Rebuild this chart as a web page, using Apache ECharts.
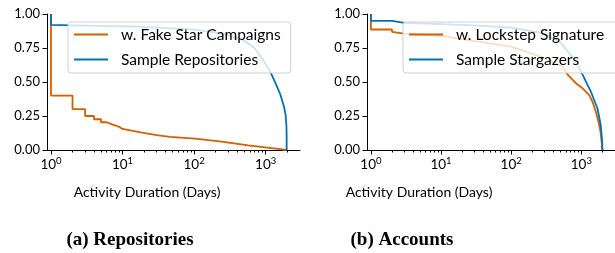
<!DOCTYPE html>
<html>
<head>
<meta charset="utf-8">
<title>Activity duration</title>
<script src="https://cdn.jsdelivr.net/npm/echarts@6/dist/echarts.min.js"></script>
<style>
  html, body { margin: 0; padding: 0; background: #fff; }
  #chart { width: 615px; height: 253px; }
</style>
</head>
<body>
<div id="chart"></div>
<script>
// (a) repositories
var repoFakeDays  = [1, 1, 2, 2, 3, 3, 4, 4, 5, 5, 6, 6, 7, 7, 8, 8, 9, 9, 10, 18, 30, 46, 103, 243, 571, 980, 1500, 1960];
var repoFakeShare = [1.0, 0.40, 0.40, 0.30, 0.30, 0.25, 0.25, 0.226, 0.226, 0.204, 0.204, 0.19, 0.19, 0.18, 0.18, 0.17, 0.17, 0.163, 0.155, 0.13, 0.11, 0.097, 0.083, 0.061, 0.034, 0.02, 0.008, 0.0];
var repoSampleDays  = [1, 1, 2, 5, 10, 20, 50, 100, 200, 300, 400, 500, 700, 900, 1000, 1200, 1400, 1600, 1800, 1900, 1950, 1965, 1965];
var repoSampleShare = [1.0, 0.92, 0.917, 0.913, 0.91, 0.905, 0.895, 0.885, 0.865, 0.845, 0.825, 0.805, 0.75, 0.67, 0.63, 0.56, 0.48, 0.41, 0.32, 0.26, 0.18, 0.1, 0.0];

// (b) accounts
var accLockDays  = [1, 1, 2, 2, 3, 10, 30, 100, 250, 540, 647, 760, 846, 1050, 1300, 1446, 1610, 1757, 1870, 1950, 1995];
var accLockShare = [1.0, 0.886, 0.886, 0.869, 0.855, 0.84, 0.80, 0.76, 0.69, 0.615, 0.55, 0.513, 0.489, 0.452, 0.403, 0.354, 0.281, 0.207, 0.14, 0.06, 0.0];
var accSampleDays  = [1, 1, 2, 2, 3, 10, 34, 100, 290, 495, 850, 1050, 1371, 1700, 1892, 1980, 2000];
var accSampleShare = [1.0, 0.95, 0.95, 0.94, 0.935, 0.925, 0.915, 0.90, 0.857, 0.795, 0.65, 0.55, 0.428, 0.305, 0.18, 0.07, 0.0];

var majorTicks = [1, 10, 100, 1000];
var minorTicks = [2, 3, 4, 5, 6, 7, 8, 9, 20, 30, 40, 50, 60, 70, 80, 90, 200, 300, 400, 500, 600, 700, 800, 900, 2000];
var supDigits = ['0', '1', '2', '3'];

var orange = '#d55e00';
var blue = '#0072b2';
var sans = 'Lato, "DejaVu Sans", sans-serif';

function pairs(xs, ys) {
    return xs.map(function (x, i) { return [x, ys[i]]; });
}

function majorAxis(grid) {
    return {
        type: 'log', gridIndex: grid, min: 0.88, max: 3020, position: 'bottom',
        axisLine: { lineStyle: { color: '#000', width: 1 } },
        axisTick: { customValues: majorTicks, length: 4.5, lineStyle: { color: '#000' } },
        axisLabel: {
            customValues: majorTicks, margin: 6,
            formatter: function (v) {
                return '{b|10}{s|' + supDigits[Math.round(Math.log10(v))] + '}';
            },
            rich: {
                b: { fontFamily: sans, fontSize: 13.5, color: '#000', lineHeight: 16, verticalAlign: 'bottom' },
                s: { fontFamily: sans, fontSize: 9.5, color: '#000', lineHeight: 16, verticalAlign: 'top' }
            }
        },
        splitLine: { show: false }
    };
}
function minorAxis(grid) {
    return {
        type: 'log', gridIndex: grid, min: 0.88, max: 3020, position: 'bottom',
        axisLine: { show: false },
        axisTick: { customValues: minorTicks, length: 2.5, lineStyle: { color: '#000' } },
        axisLabel: { show: false },
        splitLine: { show: false }
    };
}
function yAxis(grid) {
    return {
        type: 'value', gridIndex: grid, min: 0, max: 1, interval: 0.25,
        axisLine: { show: true, lineStyle: { color: '#000', width: 1 } },
        axisTick: { show: true, length: 4.5, lineStyle: { color: '#000' } },
        axisLabel: { color: '#000', fontFamily: sans, fontSize: 13, margin: 7,
            formatter: function (v) { return v.toFixed(2); } },
        splitLine: { show: false }
    };
}
function line(name, xi, yi, color, data) {
    return {
        name: name, type: 'line', xAxisIndex: xi, yAxisIndex: yi,
        data: data, showSymbol: false, symbol: 'none',
        lineStyle: { color: color, width: 1.8 }, itemStyle: { color: color },
        animation: false
    };
}
function legend(left, names, padRight) {
    return {
        data: names, orient: 'vertical', left: left, top: 22,
        icon: 'rect', itemWidth: 34, itemHeight: 2, itemGap: 8,
        padding: [4, padRight, 5, 6],
        backgroundColor: 'rgba(255,255,255,0.8)', borderColor: '#d0d0d0', borderWidth: 1, borderRadius: 3,
        textStyle: { fontFamily: sans, fontSize: 15.5, color: '#000', lineHeight: 17, padding: [0, 0, 0, 8] }
    };
}

var chart = echarts.init(document.getElementById('chart'), null, { renderer: 'canvas' });
chart.setOption({
    animation: false,
    grid: [
        { left: 47, right: 315, top: 14, height: 136 },
        { left: 367, right: -5, top: 14, height: 136 }
    ],
    xAxis: [majorAxis(0), minorAxis(0), majorAxis(1), minorAxis(1)],
    yAxis: [yAxis(0), yAxis(1)],
    legend: [
        legend(68, ['w. Fake Star Campaigns', 'Sample Repositories'], 10),
        legend(403, ['w. Lockstep Signature', 'Sample Stargazers'], 22)
    ],
    series: [
        line('w. Fake Star Campaigns', 0, 0, orange, pairs(repoFakeDays, repoFakeShare)),
        line('Sample Repositories', 0, 0, blue, pairs(repoSampleDays, repoSampleShare)),
        line('w. Lockstep Signature', 2, 1, orange, pairs(accLockDays, accLockShare)),
        line('Sample Stargazers', 2, 1, blue, pairs(accSampleDays, accSampleShare))
    ],
    graphic: [
        { type: 'text', x: 147, y: 192, style: { text: 'Activity Duration (Days)', font: '14px ' + sans, fill: '#000', align: 'center', verticalAlign: 'middle' } },
        { type: 'text', x: 419, y: 192, style: { text: 'Activity Duration (Days)', font: '14px ' + sans, fill: '#000', align: 'center', verticalAlign: 'middle' } },
        { type: 'text', x: 130, y: 240, style: { text: '(a) Repositories', font: 'bold 19px "Liberation Serif", serif', fill: '#000', align: 'center', verticalAlign: 'middle' } },
        { type: 'text', x: 402, y: 240, style: { text: '(b) Accounts', font: 'bold 19px "Liberation Serif", serif', fill: '#000', align: 'center', verticalAlign: 'middle' } }
    ]
});
</script>
</body>
</html>
